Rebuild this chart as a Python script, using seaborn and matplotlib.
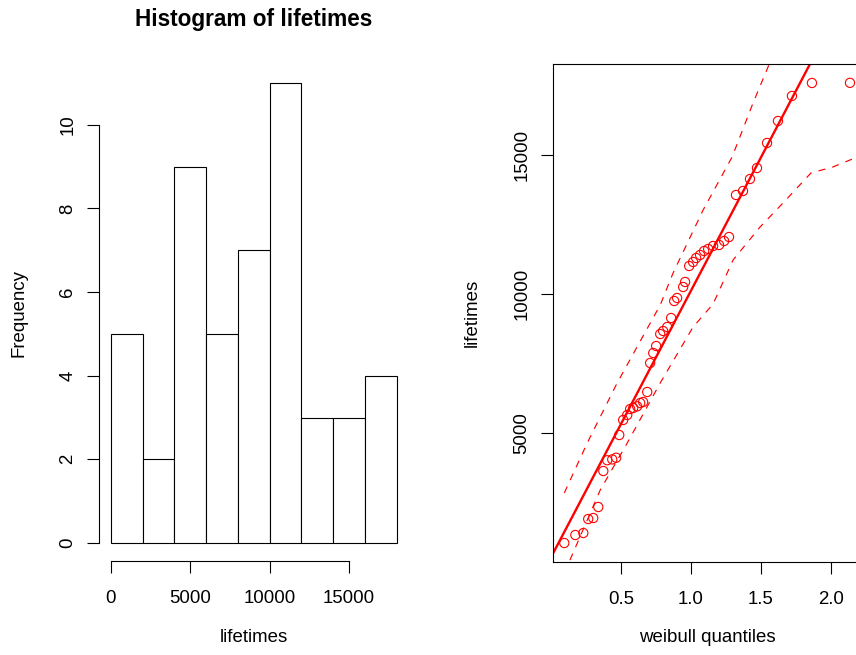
import numpy as np
import pandas as pd
import matplotlib
matplotlib.use("Agg")
import matplotlib.pyplot as plt
import seaborn as sns

# Data
lifetimes = [1043, 1331, 1403, 1906, 1942, 2338, 3633, 4020, 4050, 4110,
             4928, 5468, 5647, 5863, 5900, 5960, 6079, 6115, 6475, 7518,
             7878, 8129, 8561, 8669, 8813, 9137, 9748, 9856, 10252, 10432,
             11007, 11151, 11295, 11403, 11547, 11619, 11727, 11763, 11906, 12050,
             13561, 13705, 14137, 14532, 15432, 16223, 17122, 17590, 17595]

weibull_q = [0.095, 0.174, 0.231, 0.266, 0.302, 0.338, 0.374, 0.402, 0.438, 0.466,
             0.488, 0.516, 0.545, 0.566, 0.588, 0.616, 0.638, 0.659, 0.688, 0.709,
             0.731, 0.752, 0.781, 0.802, 0.831, 0.859, 0.881, 0.902, 0.945, 0.959,
             0.988, 1.016, 1.038, 1.066, 1.095, 1.124, 1.159, 1.202, 1.238, 1.273,
             1.323, 1.373, 1.423, 1.473, 1.545, 1.623, 1.723, 1.866, 2.138]

hist_breaks = [0, 2000, 4000, 6000, 8000, 10000, 12000, 14000, 16000, 18000]

# reference line (quartile fit)
ref_intercept = 530
ref_slope = 9580

# confidence envelope
upper_q = [0.095, 0.259, 0.473, 0.781, 0.873, 1.088, 1.295, 1.445, 1.552, 1.75]
upper_v = [2842, 4640, 6799, 9604, 10755, 13022, 14928, 16871, 18165, 20600]
lower_q = [0.095, 0.145, 0.352, 0.545, 0.781, 1.016, 1.159, 1.302, 1.495, 1.659, 1.859, 2.016, 2.173]
lower_v = [-40, 540, 2950, 4640, 6799, 8813, 9640, 11223, 12410, 13273, 14353, 14568, 14892]

sns.set_style("white")
plt.rcParams['font.family'] = ['Liberation Sans', 'DejaVu Sans']
plt.rcParams['font.size'] = 13.4
plt.rcParams['axes.linewidth'] = 0.8
for key in ['text.color', 'axes.labelcolor', 'xtick.color', 'ytick.color', 'axes.edgecolor']:
    plt.rcParams[key] = 'black'

W, H = 856, 655
fig = plt.figure(figsize=(W / 100, H / 100), dpi=100)

tick_len = 8.6
lab_size = 13.4


def frac(left, top, right, bottom):
    return [left / W, 1 - bottom / H, (right - left) / W, (bottom - top) / H]


# ---- left: histogram ----
ax1 = fig.add_axes(frac(99.3, 64.6, 408.3, 561.4))
df = pd.DataFrame({'lifetimes': lifetimes})
sns.histplot(data=df, x='lifetimes', bins=hist_breaks, stat='count',
             color='white', edgecolor='black', linewidth=0.8, alpha=1, ax=ax1)
ax1.set_xlim(-720, 18720)
ax1.set_ylim(-0.44, 11.44)
ax1.set_xticks([0, 5000, 10000, 15000])
ax1.set_xticklabels(['0', '5000', '10000', '15000'])
ax1.set_yticks([0, 2, 4, 6, 8, 10])
ax1.set_yticklabels(['0', '2', '4', '6', '8', '10'], rotation=90, va='center')
for s in ['top', 'right']:
    ax1.spines[s].set_visible(False)
ax1.spines['left'].set_bounds(0, 10)
ax1.spines['bottom'].set_bounds(0, 15000)
ax1.tick_params(axis='x', direction='out', length=tick_len, width=0.8, pad=12, labelsize=lab_size, bottom=True)
ax1.tick_params(axis='y', direction='out', length=tick_len, width=0.8, pad=8, labelsize=lab_size, left=True)
ax1.set_xlabel('lifetimes', fontsize=lab_size)
ax1.set_ylabel('Frequency', fontsize=lab_size)
ax1.xaxis.set_label_coords(0.5, (561.4 - 638) / 496.8)
ax1.xaxis.label.set_va('center')
ax1.yaxis.set_label_coords((18.7 - 99.3) / 309, 0.5)
ax1.yaxis.label.set_va('center')
ax1.set_title('Histogram of lifetimes', fontsize=16.3, fontweight='bold',
              y=1 + (64.6 - 34) / 496.8)

# ---- right: weibull QQ plot ----
ax2 = fig.add_axes(frac(553.3, 64, 862, 562))
sns.scatterplot(x=weibull_q, y=lifetimes, marker='o', s=44, facecolor='none',
                edgecolor='red', linewidth=0.8, ax=ax2, zorder=3)
ax2.axline((0, ref_intercept), slope=ref_slope, color='red', lw=1.7)
sns.lineplot(x=upper_q, y=upper_v, sort=False, estimator=None, color='red',
             lw=0.85, linestyle=(0, (6, 6)), ax=ax2)
sns.lineplot(x=lower_q, y=lower_v, sort=False, estimator=None, color='red',
             lw=0.85, linestyle=(0, (6, 6)), ax=ax2)
ax2.set_xlim(0.0164, 2.224)
ax2.set_ylim(360, 18273)
ax2.set_xticks([0.5, 1.0, 1.5, 2.0])
ax2.set_xticklabels(['0.5', '1.0', '1.5', '2.0'])
ax2.set_yticks([5000, 10000, 15000])
ax2.set_yticklabels(['5000', '10000', '15000'], rotation=90, va='center')
for s in ax2.spines.values():
    s.set_visible(True)
    s.set_color('black')
    s.set_linewidth(0.8)
ax2.tick_params(axis='x', direction='out', length=tick_len, width=0.8, pad=12, labelsize=lab_size, bottom=True)
ax2.tick_params(axis='y', direction='out', length=tick_len, width=0.8, pad=8, labelsize=lab_size, left=True)
ax2.set_xlabel('weibull quantiles', fontsize=lab_size)
ax2.set_ylabel('lifetimes', fontsize=lab_size)
ax2.xaxis.set_label_coords((707.6 - 553.3) / 308.7, (562 - 638) / 498)
ax2.xaxis.label.set_va('center')
ax2.yaxis.set_label_coords((472 - 553.3) / 308.7, 0.5)
ax2.yaxis.label.set_va('center')

fig.savefig('out.png', dpi=100)
